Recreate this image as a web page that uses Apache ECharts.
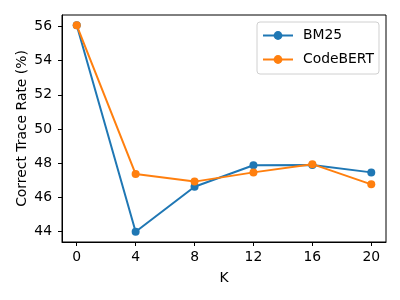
<!DOCTYPE html>
<html>
<head>
<meta charset="utf-8">
<script src="https://cdn.jsdelivr.net/npm/echarts@6/dist/echarts.min.js"></script>
<style>html,body{margin:0;padding:0;background:#fff}#c{width:400px;height:300px}</style>
</head>
<body>
<div id="c"></div>
<script>
const kValues = [0, 4, 8, 12, 16, 20];
const bm25 = [56.07, 44.0, 46.63, 47.89, 47.9, 47.47];
const codebert = [56.07, 47.37, 46.93, 47.47, 47.95, 46.77];
const xTicks = [0, 4, 8, 12, 16, 20];
const yTicks = [44, 46, 48, 50, 52, 54, 56];

const FONT = 'DejaVu Sans';
const FS = 13.9;
const chart = echarts.init(document.getElementById('c'), null, {renderer: 'canvas'});
const pair = (arr) => kValues.map((k, i) => [k, arr[i]]);
const axisCommon = {
  axisLine: {show: true, onZero: false, lineStyle: {color: '#000', width: 1}},
  axisTick: {show: true, inside: false, length: 4, lineStyle: {color: '#000', width: 1}},
  splitLine: {show: false},
};
chart.setOption({
  animation: false,
  backgroundColor: '#fff',
  textStyle: {fontFamily: FONT},
  grid: {left: 62, right: 14, top: 15, bottom: 58, show: true, borderColor: '#000', borderWidth: 1, backgroundColor: 'transparent'},
  legend: {
    orient: 'vertical', left: 257, top: 22,
    padding: [6.5, 5, 7.5, 5], itemGap: 10, itemWidth: 30, itemHeight: 11,
    borderColor: '#d0d0d0', borderWidth: 1, borderRadius: 3, backgroundColor: '#fff',
    lineStyle: {width: 2},
    textStyle: {fontFamily: FONT, fontSize: FS, color: '#000', padding: [0, 0, 0, 5]},
    data: ['BM25', 'CodeBERT']
  },
  xAxis: Object.assign({}, axisCommon, {
    type: 'value', min: -1, max: 21,
    name: 'K', nameLocation: 'middle', nameGap: 29, nameMoveOverlap: false,
    nameTextStyle: {fontFamily: FONT, fontSize: FS, color: '#000'},
    axisTick: Object.assign({}, axisCommon.axisTick, {customValues: xTicks}),
    axisLabel: {customValues: xTicks, fontFamily: FONT, fontSize: FS, color: '#000', margin: 8}
  }),
  yAxis: Object.assign({}, axisCommon, {
    type: 'value', min: 43.4, max: 56.67,
    name: 'Correct Trace Rate (%)', nameLocation: 'middle', nameGap: 33, nameRotate: 90, nameMoveOverlap: false,
    nameTextStyle: {fontFamily: FONT, fontSize: FS, color: '#000'},
    axisTick: Object.assign({}, axisCommon.axisTick, {customValues: yTicks}),
    axisLabel: {customValues: yTicks, fontFamily: FONT, fontSize: FS, color: '#000', margin: 10}
  }),
  series: [
    {name: 'BM25', type: 'line', data: pair(bm25), symbol: 'circle', symbolSize: 8,
     color: '#1f77b4', lineStyle: {width: 2, color: '#1f77b4'}, itemStyle: {color: '#1f77b4'}, z: 2},
    {name: 'CodeBERT', type: 'line', data: pair(codebert), symbol: 'circle', symbolSize: 8,
     color: '#ff7f0e', lineStyle: {width: 2, color: '#ff7f0e'}, itemStyle: {color: '#ff7f0e'}, z: 3}
  ]
});
</script>
</body>
</html>
